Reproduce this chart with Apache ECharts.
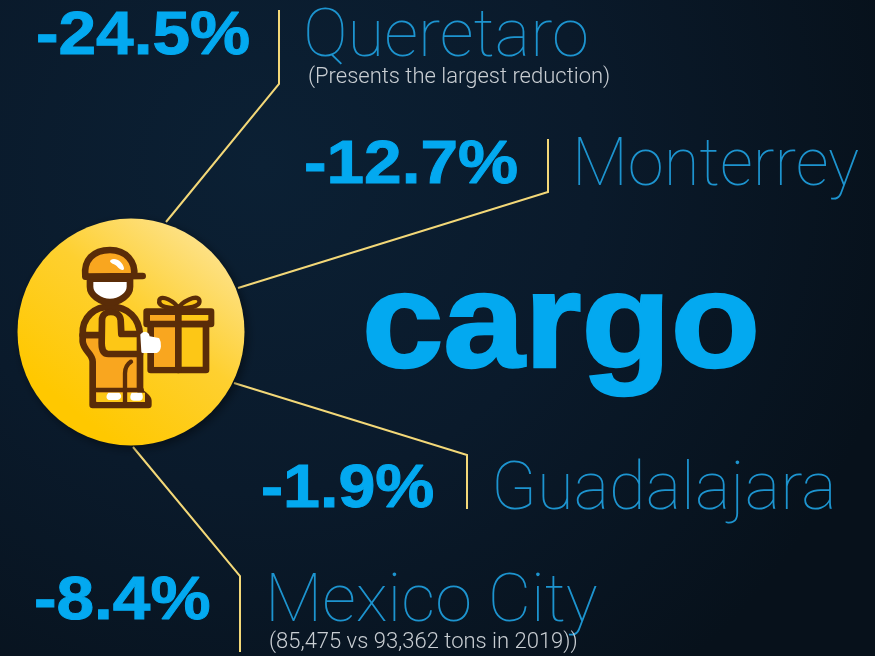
<!DOCTYPE html>
<html><head><meta charset="utf-8">
<style>html,body{margin:0;padding:0;background:#07111b}#c{width:875px;height:656px}</style>
<script src="https://cdn.jsdelivr.net/npm/echarts@6/dist/echarts.min.js"></script>
</head><body><div id="c"></div>
<script>
const headline = 'cargo';
const cities = ['Queretaro', 'Monterrey', 'Guadalajara', 'Mexico City'];
const changes = ['-24.5%', '-12.7%', '-1.9%', '-8.4%'];
const notes = ['(Presents the largest reduction)', '', '', '(85,475 vs 93,362 tons in 2019))'];

// layout of each callout, in page pixels
const layout = [
  {pctX: 36,  pctScale: 1.09, cityX: 303, cityScale: 1,    base: 57,  line: [[279,10],[279,84],[166,222]],  noteX: 308, noteY: 77},
  {pctX: 304, pctScale: 1.09, cityX: 572, cityScale: 0.972, base: 186, line: [[548,139],[548,192],[238,288]]},
  {pctX: 261, pctScale: 1.07, cityX: 491, cityScale: 1,    base: 510, line: [[467,509],[467,455],[234,383]]},
  {pctX: 34,  pctScale: 1.09, cityX: 265, cityScale: 0.995, base: 622, line: [[240,652],[240,576],[133,447]], noteX: 269, noteY: 642}
];
const thin = '"Roboto","Lato",sans-serif';
const bold = '"Liberation Sans",Arial,sans-serif';
const BLUE = '#03a9f0', THIN = '#1d94cf', LINE = '#f3d878', INK = '#5a2c08';

const els = [];
els.push({type:'rect', shape:{x:0,y:0,width:875,height:656}, style:{fill:{type:'radial',x:0.3,y:0.25,r:1,
  colorStops:[{offset:0,color:'#0b2034'},{offset:0.5,color:'#0a1a2b'},{offset:1,color:'#07111b'}]}}});

layout.forEach((l,i)=>{
  els.push({type:'polyline', shape:{points:l.line}, style:{fill:null, stroke:LINE, lineWidth:2}});
  els.push({type:'text', x:l.pctX, y:l.base-20, scaleX:l.pctScale, style:{text:changes[i], fill:BLUE, stroke:BLUE, lineWidth:1, font:'bold 62px '+bold, verticalAlign:'middle', align:'left', shadowColor:'rgba(0,0,0,.5)', shadowBlur:6, shadowOffsetY:2}});
  els.push({type:'text', x:l.cityX, y:l.base-18, scaleX:l.cityScale, style:{text:cities[i], fill:THIN, font:'100 67px '+thin, verticalAlign:'middle', align:'left'}});
  if(notes[i]) els.push({type:'text', x:l.noteX, y:l.noteY, style:{text:notes[i], fill:'#c9ced3', font:'300 22px "Roboto",'+bold, verticalAlign:'middle', align:'left'}});
});
els.push({type:'text', x:362, y:329.5, scaleX:1.075, style:{text:headline, fill:BLUE, stroke:BLUE, lineWidth:2.5, font:'bold 136px '+bold, verticalAlign:'middle', align:'left', shadowColor:'rgba(0,0,0,.6)', shadowBlur:10, shadowOffsetY:4}});

els.push({type:'circle', shape:{cx:131,cy:332,r:113.5}, style:{fill:{type:'linear',x:0.85,y:0.1,x2:0.25,y2:0.85,
  colorStops:[{offset:0,color:'#fde28a'},{offset:0.45,color:'#fed030'},{offset:1,color:'#ffc800'}]}, shadowColor:'rgba(0,0,0,.45)', shadowBlur:10, shadowOffsetX:3, shadowOffsetY:3}});

// courier icon, drawn in a 3x grid and scaled down
const s = {stroke:INK, lineWidth:20, lineJoin:'round', lineCap:'round'};
let pathCount = 0;
const shapeOf = d => { const name = 'iconPath' + (pathCount++); echarts.graphic.registerShape(name, echarts.graphic.extendPath(d, {})); return name; };
const p = (d,fill,extra)=>({type:shapeOf(d), style:Object.assign({},s,{fill},extra||{})});
const icon = [
  // box
  p('M452 372 L618 372 L618 510 L452 510 Z','#fdc716'),
  {type:'rect', shape:{x:462,y:382,width:73,height:118}, style:{fill:'#f9a61f'}},
  p('M440 335 L633 335 L633 372 L440 372 Z','#f9a61f'),
  {type:'rect', shape:{x:540,y:345,width:85,height:15}, style:{fill:'#fdc716'}},
  p('M535 335 L535 510','none'),
  p('M535 325 C510 325 472 322 478 300 C484 282 525 305 535 325 C545 305 590 282 598 300 C604 322 560 325 535 325 Z','#fdc716',{lineWidth:13}),
  // legs
  p('M248 405 L248 425 C252 455 278 460 278 485 L278 615 L445 615 L445 602 C445 590 422 582 420 570 L420 405 Z','#f9a61f'),
  {type:'rect', shape:{x:290,y:578,width:145,height:28}, style:{fill:'#fdc716'}},
  {type:shapeOf('M325 578 L358 578 C370 590 360 600 350 600 L330 600 C320 600 315 590 325 578 Z M395 578 L425 578 C432 590 428 602 418 602 L402 602 C390 602 388 590 395 578 Z'), style:{fill:'#fff'}},
  p('M285 570 L425 570','none',{lineWidth:14}),
  p('M393 485 C378 495 375 505 375 520 L375 610','none',{lineWidth:13}),
  // torso
  p('M248 405 C245 350 285 320 330 320 C385 320 418 355 420 405 L248 405 Z','#fdc716'),
  // arm
  p('M306 360 C306 328 358 328 362 360 L364 402 L420 402 L420 462 L325 462 C308 462 305 445 305 430 Z','#fdc716'),
  // hand
  p('M425 405 C435 395 445 400 445 412 L475 418 C482 430 480 450 470 455 L428 455 Z','#ffffff',{lineWidth:8,stroke:'#fff'}),
  // face
  p('M270 236 L390 236 L390 260 C390 285 360 306 330 306 C300 306 270 285 270 260 Z','#ffffff'),
  // cap
  p('M256 230 C250 180 280 150 330 150 C378 150 408 185 402 228 L428 228 L256 230 Z','#f9a61f'),
  {type:shapeOf('M332 180 C345 170 370 185 372 205 C372 215 360 210 350 198 C340 190 325 188 332 180 Z'), style:{fill:'#fff'}}
];
els.push({type:'group', x:0, y:200, scaleX:1/3, scaleY:1/3, children:icon});

echarts.init(document.getElementById('c'),null,{renderer:'canvas'}).setOption({animation:false, graphic:{elements:els}});
</script></body></html>
